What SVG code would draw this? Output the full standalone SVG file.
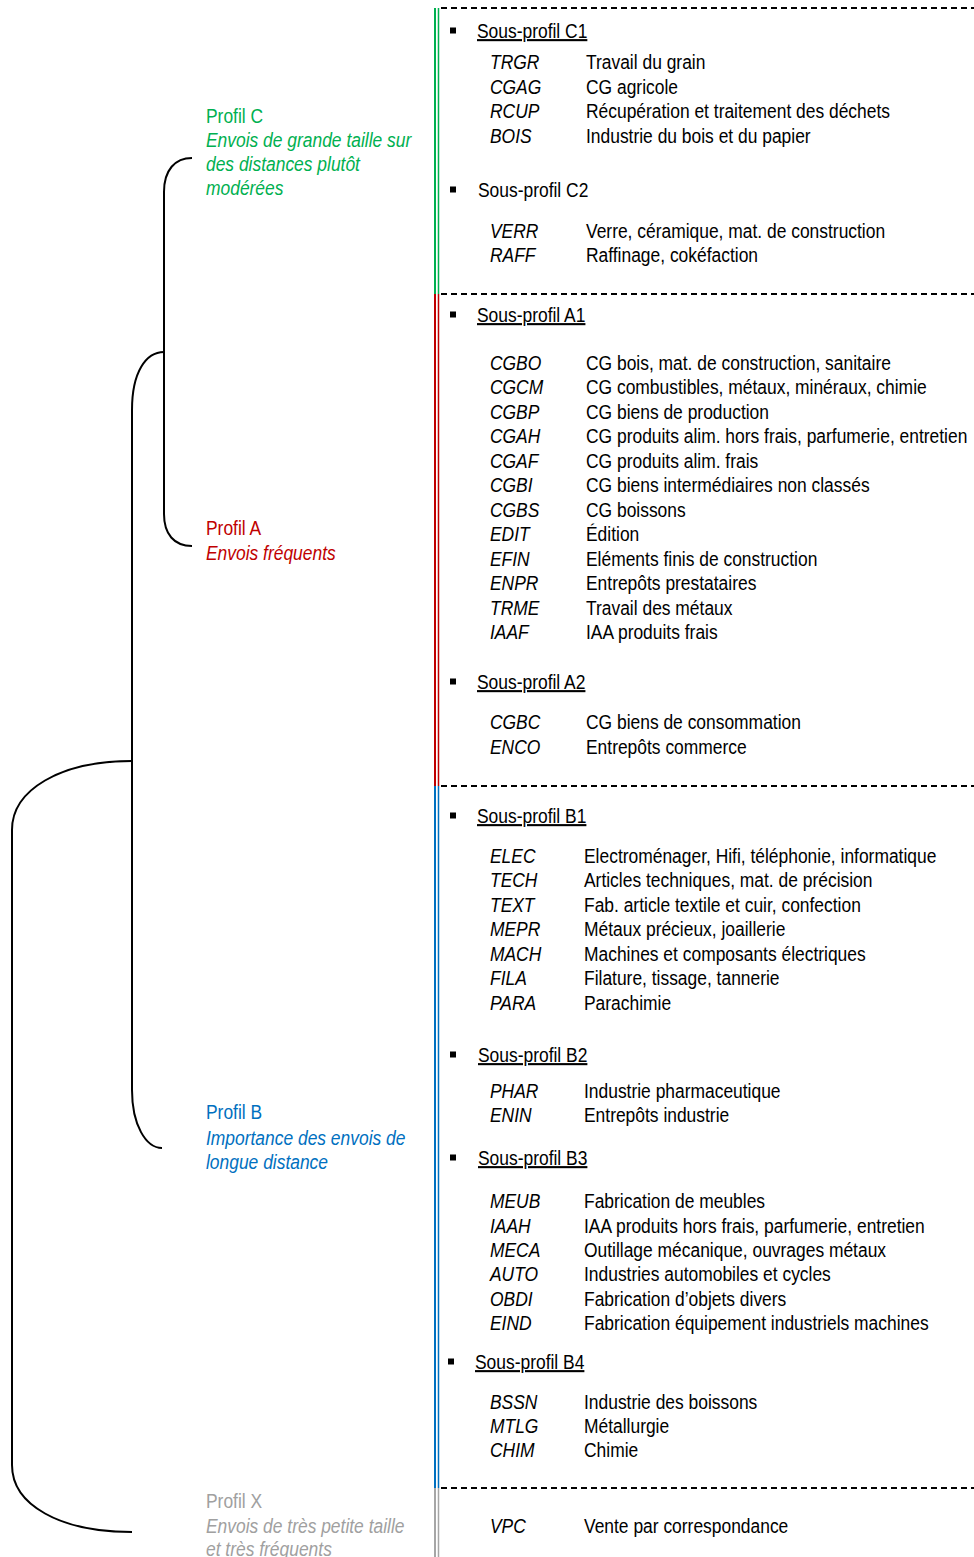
<svg xmlns="http://www.w3.org/2000/svg" width="974" height="1557" viewBox="0 0 974 1557">
<style>
text{font-family:"Liberation Sans",Arial,sans-serif;font-size:21px;fill:#000}
.c{font-style:italic}
.u{text-decoration:underline}
.g{fill:#00B050}.r{fill:#C00000}.b{fill:#0070C0}.x{fill:#A0A0A0}
.br{fill:none;stroke:#000;stroke-width:2}
.dash{stroke:#000;stroke-width:2;stroke-dasharray:6 4}
</style>
<rect width="974" height="1557" fill="#fff"/>
<g id="connectors">
<path class="br" d="M192,158 C175,158 164,170 164,192 L164,514 C164,534 174,546 192,546"/>
<path class="br" d="M164,352 C146,352 132,372 132,410 L132,1090 C132,1125 146,1148 162,1148"/>
<path class="br" d="M132,761 C60,761 12,790 12,830 L12,1465 C12,1505 60,1532 132,1532"/>
</g>
<g id="rails">
<line x1="435" y1="8" x2="435" y2="294" stroke="#00B050" stroke-width="2"/>
<line x1="438.5" y1="8" x2="438.5" y2="294" stroke="#00B050" stroke-width="1.5"/>
<line x1="435" y1="294" x2="435" y2="786" stroke="#C00000" stroke-width="2"/>
<line x1="438.5" y1="294" x2="438.5" y2="786" stroke="#C00000" stroke-width="1.5"/>
<line x1="435" y1="786" x2="435" y2="1488" stroke="#0070C0" stroke-width="2"/>
<line x1="438.5" y1="786" x2="438.5" y2="1488" stroke="#0070C0" stroke-width="1.5"/>
<line x1="435" y1="1488" x2="435" y2="1557" stroke="#A6A6A6" stroke-width="2"/>
<line x1="438.5" y1="1488" x2="438.5" y2="1557" stroke="#A6A6A6" stroke-width="1.5"/>
<line class="dash" x1="441" y1="8" x2="974" y2="8"/>
<line class="dash" x1="441" y1="294" x2="974" y2="294"/>
<line class="dash" x1="441" y1="786" x2="974" y2="786"/>
<line class="dash" x1="441" y1="1488" x2="974" y2="1488"/>
</g>
<g id="profil-C">
<text class="g" transform="matrix(.83 0 0 1 206 123)">Profil C</text>
<text class="g c" transform="matrix(.83 0 0 1 206 147)">Envois de grande taille sur</text>
<text class="g c" transform="matrix(.83 0 0 1 206 171)">des distances plutôt</text>
<text class="g c" transform="matrix(.83 0 0 1 206 195)">modérées</text>
</g>
<g id="profil-A">
<text class="r" transform="matrix(.83 0 0 1 206 535)">Profil A</text>
<text class="r c" transform="matrix(.83 0 0 1 206 560)">Envois fréquents</text>
</g>
<g id="profil-B">
<text class="b" transform="matrix(.83 0 0 1 206 1119)">Profil B</text>
<text class="b c" transform="matrix(.83 0 0 1 206 1145)">Importance des envois de</text>
<text class="b c" transform="matrix(.83 0 0 1 206 1169)">longue distance</text>
</g>
<g id="profil-X">
<text class="x" transform="matrix(.83 0 0 1 206 1508)">Profil X</text>
<text class="x c" transform="matrix(.83 0 0 1 206 1533)">Envois de très petite taille</text>
<text class="x c" transform="matrix(.83 0 0 1 206 1556)">et très fréquents</text>
</g>
<g id="sous-profil-C1">
<rect x="450" y="27.5" width="6" height="6"/>
<text class="u" transform="matrix(.83 0 0 1 477 38)">Sous-profil C1</text>
<text class="c" transform="matrix(.83 0 0 1 490 69)">TRGR</text><text transform="matrix(.83 0 0 1 586 69)">Travail du grain</text>
<text class="c" transform="matrix(.83 0 0 1 490 94)">CGAG</text><text transform="matrix(.83 0 0 1 586 94)">CG agricole</text>
<text class="c" transform="matrix(.83 0 0 1 490 118)">RCUP</text><text transform="matrix(.83 0 0 1 586 118)">Récupération et traitement des déchets</text>
<text class="c" transform="matrix(.83 0 0 1 490 143)">BOIS</text><text transform="matrix(.83 0 0 1 586 143)">Industrie du bois et du papier</text>
</g>
<g id="sous-profil-C2">
<rect x="450" y="186.5" width="6" height="6"/>
<text transform="matrix(.83 0 0 1 478 197)">Sous-profil C2</text>
<text class="c" transform="matrix(.83 0 0 1 490 238)">VERR</text><text transform="matrix(.83 0 0 1 586 238)">Verre, céramique, mat. de construction</text>
<text class="c" transform="matrix(.83 0 0 1 490 262)">RAFF</text><text transform="matrix(.83 0 0 1 586 262)">Raffinage, cokéfaction</text>
</g>
<g id="sous-profil-A1">
<rect x="450" y="311.5" width="6" height="6"/>
<text class="u" transform="matrix(.83 0 0 1 477 322)">Sous-profil A1</text>
<text class="c" transform="matrix(.83 0 0 1 490 370)">CGBO</text><text transform="matrix(.83 0 0 1 586 370)">CG bois, mat. de construction, sanitaire</text>
<text class="c" transform="matrix(.83 0 0 1 490 394)">CGCM</text><text transform="matrix(.83 0 0 1 586 394)">CG combustibles, métaux, minéraux, chimie</text>
<text class="c" transform="matrix(.83 0 0 1 490 419)">CGBP</text><text transform="matrix(.83 0 0 1 586 419)">CG biens de production</text>
<text class="c" transform="matrix(.83 0 0 1 490 443)">CGAH</text><text transform="matrix(.83 0 0 1 586 443)">CG produits alim. hors frais, parfumerie, entretien</text>
<text class="c" transform="matrix(.83 0 0 1 490 468)">CGAF</text><text transform="matrix(.83 0 0 1 586 468)">CG produits alim. frais</text>
<text class="c" transform="matrix(.83 0 0 1 490 492)">CGBI</text><text transform="matrix(.83 0 0 1 586 492)">CG biens intermédiaires non classés</text>
<text class="c" transform="matrix(.83 0 0 1 490 517)">CGBS</text><text transform="matrix(.83 0 0 1 586 517)">CG boissons</text>
<text class="c" transform="matrix(.83 0 0 1 490 541)">EDIT</text><text transform="matrix(.83 0 0 1 586 541)">Édition</text>
<text class="c" transform="matrix(.83 0 0 1 490 566)">EFIN</text><text transform="matrix(.83 0 0 1 586 566)">Eléments finis de construction</text>
<text class="c" transform="matrix(.83 0 0 1 490 590)">ENPR</text><text transform="matrix(.83 0 0 1 586 590)">Entrepôts prestataires</text>
<text class="c" transform="matrix(.83 0 0 1 490 615)">TRME</text><text transform="matrix(.83 0 0 1 586 615)">Travail des métaux</text>
<text class="c" transform="matrix(.83 0 0 1 490 639)">IAAF</text><text transform="matrix(.83 0 0 1 586 639)">IAA produits frais</text>
</g>
<g id="sous-profil-A2">
<rect x="450" y="678.5" width="6" height="6"/>
<text class="u" transform="matrix(.83 0 0 1 477 689)">Sous-profil A2</text>
<text class="c" transform="matrix(.83 0 0 1 490 729)">CGBC</text><text transform="matrix(.83 0 0 1 586 729)">CG biens de consommation</text>
<text class="c" transform="matrix(.83 0 0 1 490 754)">ENCO</text><text transform="matrix(.83 0 0 1 586 754)">Entrepôts commerce</text>
</g>
<g id="sous-profil-B1">
<rect x="450" y="812.5" width="6" height="6"/>
<text class="u" transform="matrix(.83 0 0 1 477 823)">Sous-profil B1</text>
<text class="c" transform="matrix(.83 0 0 1 490 863)">ELEC</text><text transform="matrix(.83 0 0 1 584 863)">Electroménager, Hifi, téléphonie, informatique</text>
<text class="c" transform="matrix(.83 0 0 1 490 887)">TECH</text><text transform="matrix(.83 0 0 1 584 887)">Articles techniques, mat. de précision</text>
<text class="c" transform="matrix(.83 0 0 1 490 912)">TEXT</text><text transform="matrix(.83 0 0 1 584 912)">Fab. article textile et cuir, confection</text>
<text class="c" transform="matrix(.83 0 0 1 490 936)">MEPR</text><text transform="matrix(.83 0 0 1 584 936)">Métaux précieux, joaillerie</text>
<text class="c" transform="matrix(.83 0 0 1 490 961)">MACH</text><text transform="matrix(.83 0 0 1 584 961)">Machines et composants électriques</text>
<text class="c" transform="matrix(.83 0 0 1 490 985)">FILA</text><text transform="matrix(.83 0 0 1 584 985)">Filature, tissage, tannerie</text>
<text class="c" transform="matrix(.83 0 0 1 490 1010)">PARA</text><text transform="matrix(.83 0 0 1 584 1010)">Parachimie</text>
</g>
<g id="sous-profil-B2">
<rect x="450" y="1051.5" width="6" height="6"/>
<text class="u" transform="matrix(.83 0 0 1 478 1062)">Sous-profil B2</text>
<text class="c" transform="matrix(.83 0 0 1 490 1098)">PHAR</text><text transform="matrix(.83 0 0 1 584 1098)">Industrie pharmaceutique</text>
<text class="c" transform="matrix(.83 0 0 1 490 1122)">ENIN</text><text transform="matrix(.83 0 0 1 584 1122)">Entrepôts industrie</text>
</g>
<g id="sous-profil-B3">
<rect x="450" y="1154.5" width="6" height="6"/>
<text class="u" transform="matrix(.83 0 0 1 478 1165)">Sous-profil B3</text>
<text class="c" transform="matrix(.83 0 0 1 490 1208)">MEUB</text><text transform="matrix(.83 0 0 1 584 1208)">Fabrication de meubles</text>
<text class="c" transform="matrix(.83 0 0 1 490 1233)">IAAH</text><text transform="matrix(.83 0 0 1 584 1233)">IAA produits hors frais, parfumerie, entretien</text>
<text class="c" transform="matrix(.83 0 0 1 490 1257)">MECA</text><text transform="matrix(.83 0 0 1 584 1257)">Outillage mécanique, ouvrages métaux</text>
<text class="c" transform="matrix(.83 0 0 1 490 1281)">AUTO</text><text transform="matrix(.83 0 0 1 584 1281)">Industries automobiles et cycles</text>
<text class="c" transform="matrix(.83 0 0 1 490 1306)">OBDI</text><text transform="matrix(.83 0 0 1 584 1306)">Fabrication d’objets divers</text>
<text class="c" transform="matrix(.83 0 0 1 490 1330)">EIND</text><text transform="matrix(.83 0 0 1 584 1330)">Fabrication équipement industriels machines</text>
</g>
<g id="sous-profil-B4">
<rect x="448" y="1358.5" width="6" height="6"/>
<text class="u" transform="matrix(.83 0 0 1 475 1369)">Sous-profil B4</text>
<text class="c" transform="matrix(.83 0 0 1 490 1409)">BSSN</text><text transform="matrix(.83 0 0 1 584 1409)">Industrie des boissons</text>
<text class="c" transform="matrix(.83 0 0 1 490 1433)">MTLG</text><text transform="matrix(.83 0 0 1 584 1433)">Métallurgie</text>
<text class="c" transform="matrix(.83 0 0 1 490 1457)">CHIM</text><text transform="matrix(.83 0 0 1 584 1457)">Chimie</text>
</g>
<g id="sous-profil-X">
<text class="c" transform="matrix(.83 0 0 1 490 1533)">VPC</text><text transform="matrix(.83 0 0 1 584 1533)">Vente par correspondance</text>
</g>
</svg>
